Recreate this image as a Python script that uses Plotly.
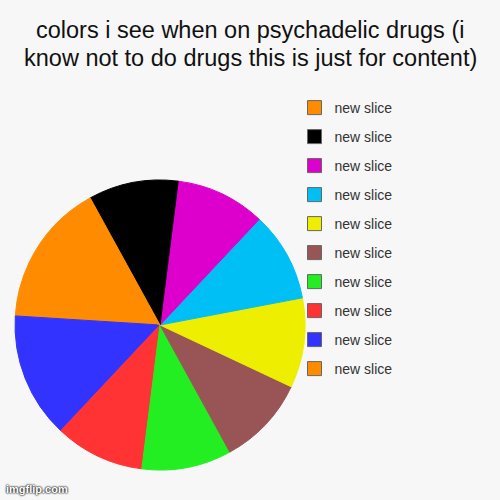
import plotly.graph_objects as go

# slice data, in drawing order (counterclockwise)
labels = ["new slice"] * 10
values = [6, 14, 10, 10, 10, 10, 10, 10, 10, 10]
colors = ["#ff8c00", "#3333ff", "#ff3333", "#22ee22", "#995555",
          "#eeee00", "#00bff5", "#dd00cc", "#000000", "#ff8c00"]

title_lines = ["colors i see when on psychadelic drugs (i",
               "know not to do drugs this is just for content)"]

# pie merges equal labels, so give each slice a unique (invisible) suffix
keys = [lab + " " * i for i, lab in enumerate(labels)]

fig = go.Figure()
fig.add_trace(go.Pie(
    labels=keys,
    values=values,
    marker=dict(colors=colors, line=dict(width=1, color=colors)),
    sort=False,
    direction="counterclockwise",
    rotation=-86.4,
    textinfo="none",
    hoverinfo="value",
    showlegend=False,
    domain=dict(x=[0.03, 0.61], y=[0.06, 0.64]),
))

# legend entries, top entry is the last slice
for i in reversed(range(len(labels))):
    fig.add_trace(go.Scatter(
        x=[None], y=[None], mode="markers", name=labels[i],
        legendgroup=str(i),
        marker=dict(symbol="square", size=14, color=colors[i],
                    line=dict(color="#666666", width=1)),
    ))

fig.add_annotation(text=title_lines[0], x=0.5, y=1 - 30 / 500, xref="paper", yref="paper",
                   showarrow=False, font=dict(size=23.5, color="#111111"), yanchor="middle")
fig.add_annotation(text=title_lines[1], x=0.5, y=1 - 58 / 500, xref="paper", yref="paper",
                   showarrow=False, font=dict(size=23.5, color="#111111"), yanchor="middle")
fig.add_annotation(text="<b>imgflip.com</b>", x=4 / 500, y=3 / 500, xref="paper", yref="paper",
                   xanchor="left", yanchor="bottom", showarrow=False,
                   font=dict(size=11, color="#ffffff", shadow="0 0 2px #000, 0 0 2px #000"))

fig.update_layout(
    width=500, height=500,
    margin=dict(l=0, r=0, t=0, b=0),
    paper_bgcolor="#f7f7f7", plot_bgcolor="#f7f7f7",
    font=dict(family="Liberation Sans, Arial, sans-serif", color="#333333"),
    xaxis=dict(visible=False), yaxis=dict(visible=False),
    legend=dict(x=0.589, y=1 - 92 / 500, xanchor="left", yanchor="top",
                font=dict(size=14, color="#333333"), tracegroupgap=7.8,
                bgcolor="rgba(0,0,0,0)"),
)

# page body has a default 8px margin, drop it so the figure sits at 0,0
fig.write_html("out.html", config={"displayModeBar": False},
               post_script="document.body.style.margin = '0';")
